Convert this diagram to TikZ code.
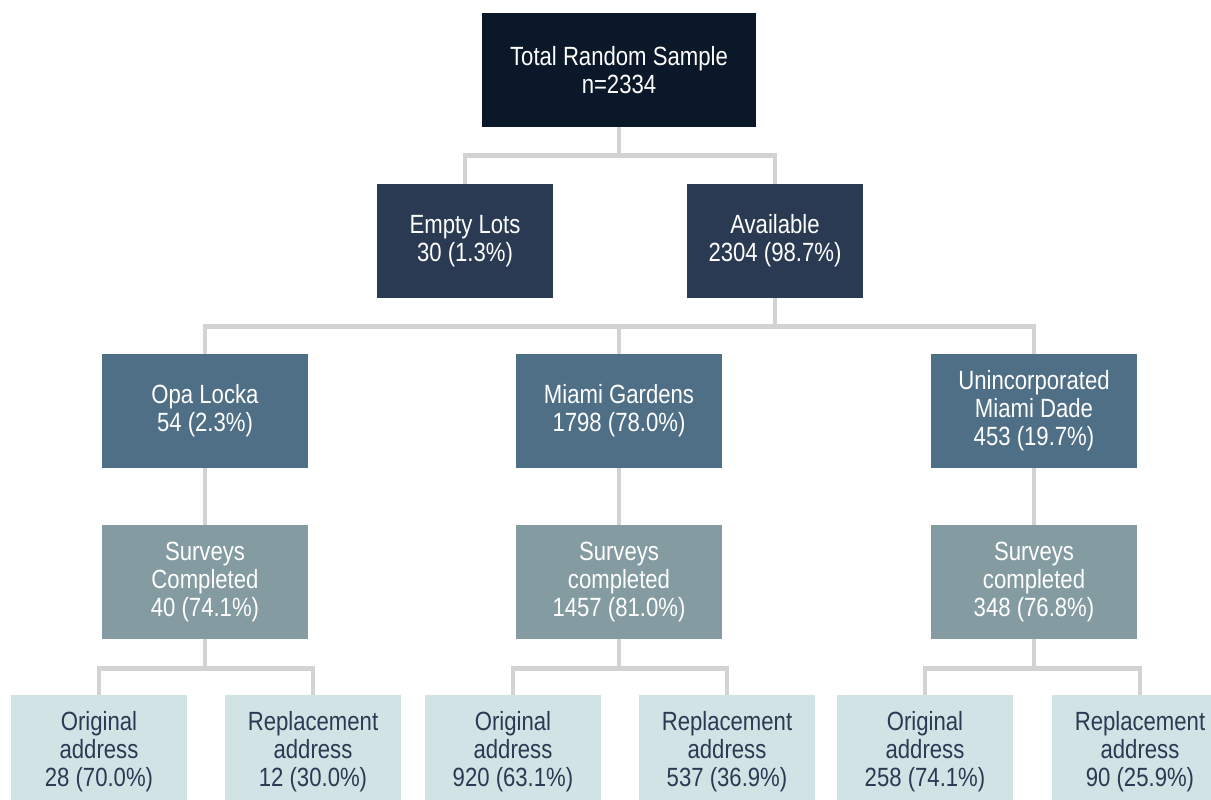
\documentclass[tikz,border=0pt]{standalone}
\usepackage{fontspec}
\setmainfont[FakeStretch=0.84]{Liberation Sans}
\usetikzlibrary{positioning}
\definecolor{navytop}{HTML}{0B1829}
\definecolor{navymid}{HTML}{293A52}
\definecolor{slate}{HTML}{4F6F86}
\definecolor{greyteal}{HTML}{849CA1}
\definecolor{paleblue}{HTML}{D2E3E6}
\definecolor{inktext}{HTML}{2B3A52}
\definecolor{linkgrey}{HTML}{D3D3D3}
\begin{document}
\begin{tikzpicture}[x=0.02cm,y=-0.02cm,
  box/.style={minimum height=2.28cm,align=center,inner sep=0pt,text=white,
    font=\fontsize{15}{15.9}\selectfont},
  rootbox/.style={box,fill=navytop,minimum width=5.48cm},
  splitbox/.style={box,fill=navymid,minimum width=3.52cm},
  areabox/.style={box,fill=slate,minimum width=4.14cm},
  surveybox/.style={box,fill=greyteal,minimum width=4.14cm},
  addrbox/.style={box,fill=paleblue,text=inktext,minimum width=3.52cm},
  link/.style={draw=linkgrey,line width=2.8pt}]
\useasboundingbox (0,0) rectangle (1211,799);
% top of tree
\node[rootbox] (total) at (619,70) {Total Random Sample\\n=2334};
\node[splitbox] (empty) at (465,241) {Empty Lots\\30 (1.3\%)};
\node[splitbox] (avail) at (775,241) {Available\\2304 (98.7\%)};
% areas
\node[areabox] (opa) at (205,411) {Opa Locka\\54 (2.3\%)};
\node[areabox] (gardens) at (619,411) {Miami Gardens\\1798 (78.0\%)};
\node[areabox] (dade) at (1034,411) {Unincorporated\\Miami Dade\\453 (19.7\%)};
% surveys
\node[surveybox] (opasurv) at (205,582) {Surveys\\Completed\\40 (74.1\%)};
\node[surveybox] (gardsurv) at (619,582) {Surveys\\completed\\1457 (81.0\%)};
\node[surveybox] (dadesurv) at (1034,582) {Surveys\\completed\\348 (76.8\%)};
% addresses
\node[addrbox] (opaorig) at (99,752) {Original\\address\\28 (70.0\%)};
\node[addrbox] (oparepl) at (313,752) {Replacement\\address\\12 (30.0\%)};
\node[addrbox] (gardorig) at (513,752) {Original\\address\\920 (63.1\%)};
\node[addrbox] (gardrepl) at (727,752) {Replacement\\address\\537 (36.9\%)};
\node[addrbox] (dadeorig) at (925,752) {Original\\address\\258 (74.1\%)};
\node[addrbox] (daderepl) at (1140,752) {Replacement\\address\\90 (25.9\%)};
% connectors
\draw[link] (total.south) -- ++(0,28) -| (empty.north);
\draw[link] (total.south) -- ++(0,28) -| (avail.north);
\foreach \a in {opa,gardens,dade}
  \draw[link] (avail.south) -- ++(0,28) -| (\a.north);
\draw[link] (opa) -- (opasurv);
\draw[link] (gardens) -- (gardsurv);
\draw[link] (dade) -- (dadesurv);
\foreach \s/\a in {opa/opa,gard/gard,dade/dade}{
  \draw[link] (\s surv.south) -- ++(0,29) -| (\a orig.north);
  \draw[link] (\s surv.south) -- ++(0,29) -| (\a repl.north);
}
\end{tikzpicture}
\end{document}
